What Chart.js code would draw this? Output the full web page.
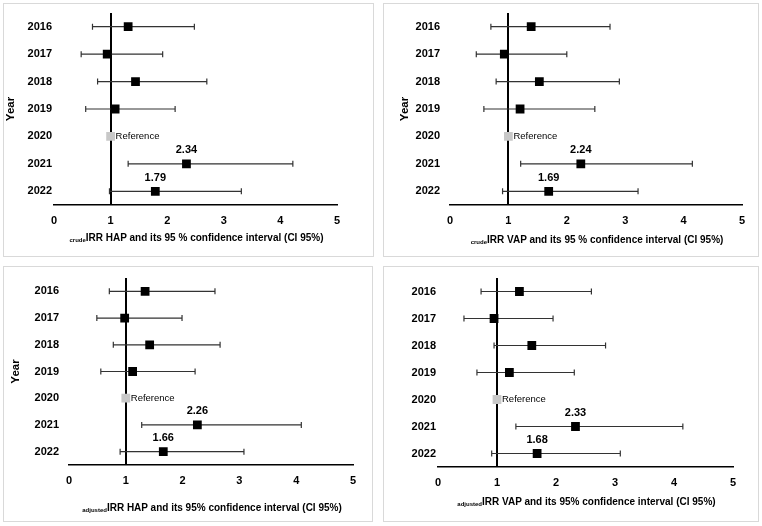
<!DOCTYPE html>
<html>
<head>
<meta charset="utf-8">
<script src="https://cdn.jsdelivr.net/npm/chart.js@4.4.1/dist/chart.umd.min.js"></script>
<style>
  body { margin: 0; background: #fff; width: 762px; height: 526px; position: relative; font-family: "Liberation Sans", Arial, sans-serif; }
  .panel { position: absolute; border: 1px solid #d9d9d9; box-sizing: border-box; }
  .panel canvas { position: absolute; left: -1px; top: -1px; }
  .xtitle { position: absolute; text-align: center; font-weight: bold; font-size: 10px; color: #000; white-space: nowrap; }
  .xtitle sub { font-size: 6px; vertical-align: -1px; }
</style>
</head>
<body>
<div class="panel" id="p1"><canvas id="c1"></canvas><div class="xtitle"><sub>crude</sub>IRR HAP and its 95 % confidence interval (CI 95%)</div></div>
<div class="panel" id="p2"><canvas id="c2"></canvas><div class="xtitle"><sub>crude</sub>IRR VAP and its 95 % confidence interval (CI 95%)</div></div>
<div class="panel" id="p3"><canvas id="c3"></canvas><div class="xtitle"><sub>adjusted</sub>IRR HAP and its 95% confidence interval (CI 95%)</div></div>
<div class="panel" id="p4"><canvas id="c4"></canvas><div class="xtitle"><sub>adjusted</sub>IRR VAP and its 95% confidence interval (CI 95%)</div></div>
<script>
var years = ['2016', '2017', '2018', '2019', '2020', '2021', '2022'];
var xTicks = [0, 1, 2, 3, 4, 5];

// crude IRR HAP
var crudeHapIrr  = [1.31, 0.94, 1.44, 1.08, 1, 2.34, 1.79];
var crudeHapLow  = [0.68, 0.48, 0.77, 0.56, null, 1.31, 0.98];
var crudeHapHigh = [2.48, 1.92, 2.70, 2.14, null, 4.22, 3.31];

// crude IRR VAP
var crudeVapIrr  = [1.39, 0.93, 1.53, 1.20, 1, 2.24, 1.69];
var crudeVapLow  = [0.70, 0.45, 0.79, 0.58, null, 1.21, 0.90];
var crudeVapHigh = [2.74, 2.00, 2.90, 2.48, null, 4.15, 3.22];

// adjusted IRR HAP
var adjHapIrr  = [1.34, 0.98, 1.42, 1.12, 1, 2.26, 1.66];
var adjHapLow  = [0.71, 0.49, 0.78, 0.56, null, 1.28, 0.90];
var adjHapHigh = [2.57, 1.99, 2.66, 2.22, null, 4.09, 3.08];

// adjusted IRR VAP
var adjVapIrr  = [1.38, 0.95, 1.59, 1.21, 1, 2.33, 1.68];
var adjVapLow  = [0.73, 0.44, 0.95, 0.66, null, 1.32, 0.91];
var adjVapHigh = [2.60, 1.95, 2.84, 2.31, null, 4.15, 3.09];

var labelsHapCrude = ['', '', '', '', 'Reference', '2.34', '1.79'];
var labelsVapCrude = ['', '', '', '', 'Reference', '2.24', '1.69'];
var labelsHapAdj   = ['', '', '', '', 'Reference', '2.26', '1.66'];
var labelsVapAdj   = ['', '', '', '', 'Reference', '2.33', '1.68'];

var FONT = '"Liberation Sans", Arial, sans-serif';

var errorBars = {
  id: 'errorBars',
  beforeDatasetsDraw: function (chart) {
    var ds = chart.data.datasets[0];
    var xs = chart.scales.x, ys = chart.scales.y;
    var c = chart.ctx;
    c.save();
    c.strokeStyle = '#333';
    c.lineWidth = 1.2;
    for (var i = 0; i < years.length; i++) {
      if (ds.lows[i] == null) continue;
      var y = ys.getPixelForValue(i);
      var x1 = xs.getPixelForValue(ds.lows[i]);
      var x2 = xs.getPixelForValue(ds.highs[i]);
      c.beginPath();
      c.moveTo(x1, y); c.lineTo(x2, y);
      c.moveTo(x1, y - 3); c.lineTo(x1, y + 3);
      c.moveTo(x2, y - 3); c.lineTo(x2, y + 3);
      c.stroke();
    }
    c.restore();
  },
  afterDatasetsDraw: function (chart, args, opts) {
    var ds = chart.data.datasets[0];
    var xs = chart.scales.x, ys = chart.scales.y;
    var c = chart.ctx;
    c.save();
    c.fillStyle = '#000';
    for (var i = 0; i < years.length; i++) {
      var t = ds.valueLabels[i];
      if (!t) continue;
      var x = xs.getPixelForValue(ds.data[i].x);
      var y = ys.getPixelForValue(i);
      if (t === 'Reference') {
        c.font = '9.5px ' + FONT;
        c.textAlign = 'left';
        c.textBaseline = 'middle';
        c.fillText(t, x + 5, y);
      } else {
        c.font = 'bold 11px ' + FONT;
        c.textAlign = 'center';
        c.textBaseline = 'bottom';
        c.fillText(t, x, y - 8);
      }
    }
    if (opts.yearX) {
      var a = chart.chartArea;
      c.translate(opts.yearX, (a.top + a.bottom) / 2);
      c.rotate(-Math.PI / 2);
      c.font = 'bold 11.5px ' + FONT;
      c.textAlign = 'center';
      c.textBaseline = 'middle';
      c.fillText('Year', 0, 0);
    }
    c.restore();
  }
};

function makePanel(n, box, area, irr, lows, highs, valueLabels, yearX, yearPad, tickPad, titleY) {
  var panel = document.getElementById('p' + n);
  panel.style.left = box[0] + 'px';
  panel.style.top = box[1] + 'px';
  panel.style.width = box[2] + 'px';
  panel.style.height = box[3] + 'px';
  var canvas = document.getElementById('c' + n);
  canvas.width = box[2];
  canvas.height = box[3];
  var title = panel.querySelector('.xtitle');
  title.style.left = area.left + 'px';
  title.style.width = (area.right - area.left) + 'px';
  title.style.top = (titleY - 7) + 'px';

  new Chart(canvas.getContext('2d'), {
    type: 'scatter',
    data: {
      labels: years,
      datasets: [{
        data: years.map(function (yr, i) { return { x: irr[i], y: yr }; }),
        lows: lows,
        highs: highs,
        valueLabels: valueLabels,
        pointStyle: 'rect',
        pointRadius: 6.2,
        pointHoverRadius: 6.2,
        borderWidth: 0,
        backgroundColor: years.map(function (yr, i) { return lows[i] == null ? '#c8c8c8' : '#000'; }),
        borderColor: years.map(function (yr, i) { return lows[i] == null ? '#c8c8c8' : '#000'; })
      }]
    },
    options: {
      responsive: false,
      animation: false,
      layout: { padding: { left: 0, top: area.top, right: box[2] - area.right, bottom: 0 } },
      plugins: { legend: { display: false }, tooltip: { enabled: false }, errorBars: { yearX: yearX } },
      scales: {
        x: {
          type: 'linear',
          min: 0, max: 5,
          afterBuildTicks: function (s) { s.ticks = xTicks.map(function (v) { return { value: v }; }); },
          afterFit: function (s) { s.height = box[3] - area.bottom; },
          border: { display: true, color: '#000', width: 1.5 },
          grid: {
            drawTicks: false,
            color: function (c) { return c.tick && c.tick.value === 1 ? '#000' : 'rgba(0,0,0,0)'; },
            lineWidth: 2
          },
          ticks: { padding: tickPad, color: '#000', font: { family: FONT, size: 11, weight: 'bold' } }
        },
        y: {
          type: 'category',
          offset: true,
          afterFit: function (s) { s.width = area.left; s.paddingTop = 0; s.paddingBottom = 0; },
          border: { display: false },
          grid: { display: false, drawTicks: false },
          ticks: { padding: yearPad, color: '#000', font: { family: FONT, size: 11, weight: 'bold' } }
        }
      }
    },
    plugins: [errorBars]
  });
}

makePanel(1, [3, 3, 371, 254], { left: 51, right: 334, top: 10, bottom: 202 },
  crudeHapIrr, crudeHapLow, crudeHapHigh, labelsHapCrude, 8, 2, 9, 235);
makePanel(2, [383, 3, 376, 254], { left: 67, right: 359, top: 10, bottom: 202 },
  crudeVapIrr, crudeVapLow, crudeVapHigh, labelsVapCrude, 22, 10, 9, 237);
makePanel(3, [3, 266, 370, 256], { left: 66, right: 350, top: 12, bottom: 199 },
  adjHapIrr, adjHapLow, adjHapHigh, labelsHapAdj, 13, 10, 9, 242);
makePanel(4, [383, 266, 376, 256], { left: 55, right: 350, top: 12, bottom: 201 },
  adjVapIrr, adjVapLow, adjVapHigh, labelsVapAdj, 0, 2, 9, 236);
</script>
</body>
</html>
